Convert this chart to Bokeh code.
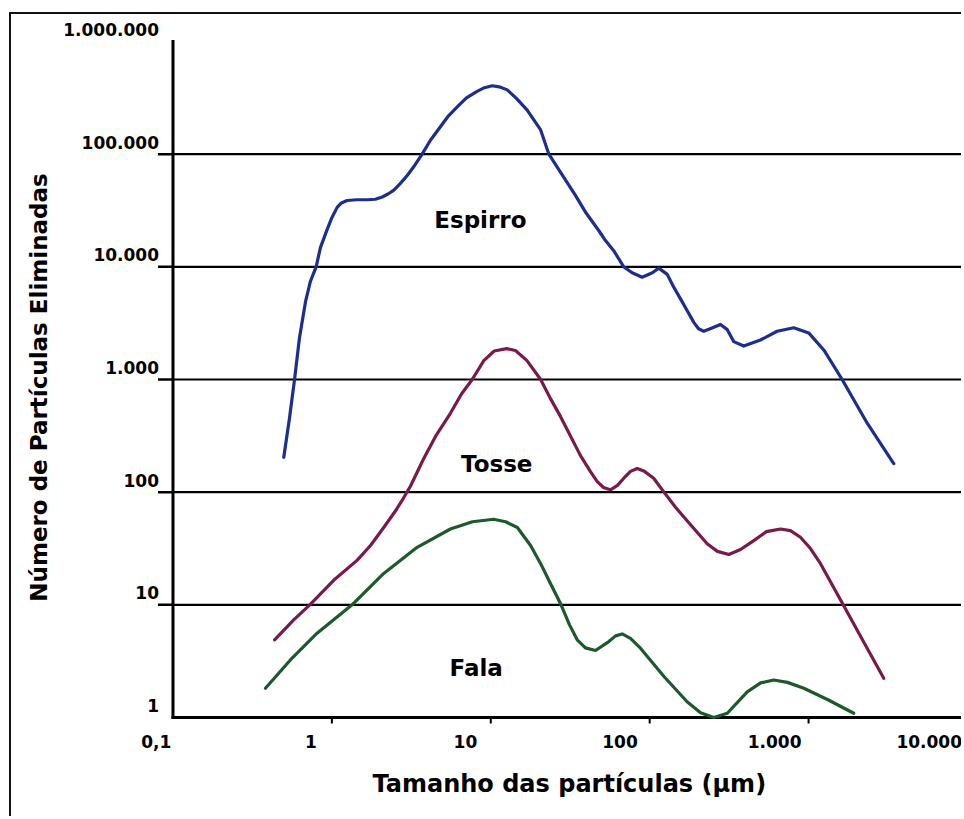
import numpy as np
from bokeh.plotting import figure
from bokeh.models import (Range1d, LogScale, LabelSet, Label, ColumnDataSource, Title)
from bokeh.core.properties import value
from bokeh.embed import file_html
from bokeh.resources import INLINE

# ---------------- data ----------------
espirro_x = [0.498, 0.541, 0.582, 0.625, 0.682, 0.733, 0.796, 0.847, 0.933, 0.994,
             1.079, 1.148, 1.247, 1.43, 1.667, 1.88, 2.075, 2.27, 2.455, 2.70,
             2.979, 3.31, 3.698, 4.17, 4.82, 5.42, 6.15, 7.03, 8.2, 9.12, 10.2,
             11.3, 12.7, 14.5, 16.9, 20.6, 23.2, 27.5, 34.1, 40.0, 47.9, 52.7,
             59.4, 68.7, 77.6, 89.7, 104, 114, 129, 141, 156, 173, 190, 203, 219,
             249, 279, 308, 338, 391, 498, 634, 807, 1002, 1250, 1626, 2339, 3436]
espirro_y = [204, 452, 1000, 2330, 4880, 7450, 10000, 14800, 21400, 26800,
             33700, 36900, 38800, 39400, 39400, 39800, 41700, 44500, 47900, 55000,
             64600, 79000, 100000, 133000, 175000, 219000, 263000, 316000, 361000,
             389000, 405000, 396000, 372000, 313000, 247000, 164000, 100000, 69000,
             43000, 29700, 20900, 17100, 13900, 10000, 8870, 8090, 8870, 9730, 8570,
             6700, 5220, 4030, 3200, 2820, 2680, 2880, 3080, 2770, 2170, 1980, 2240,
             2680, 2880, 2590, 1820, 1000, 409, 179]

tosse_x = [0.436, 0.575, 0.726, 1.03, 1.44, 1.75, 2.12, 2.51, 2.83, 3.12, 3.78,
           4.55, 5.57, 6.54, 7.64, 9.04, 10.5, 12.6, 14.3, 16.9, 20.6, 23.8, 27.5,
           36.7, 42.4, 46.8, 51.2, 56.6, 62.7, 68.7, 75.7, 83.4, 92.7, 106, 123,
           145, 172, 230, 267, 315, 373, 452, 543, 665, 769, 889, 1028, 1189, 1652,
           2183, 2972]
tosse_y = [4.89, 7.36, 10, 16.6, 24.8, 33.6, 48.6, 68, 89.1, 113, 198, 323, 501,
           743, 1000, 1470, 1790, 1880, 1810, 1470, 1000, 673, 468, 211, 152, 124,
           110, 105, 115, 133, 153, 162, 153, 133, 100, 73.8, 55.7, 34.8, 29.8, 28.0,
           31.0, 37.2, 44.6, 47.1, 45.5, 39.8, 31.6, 23.2, 10, 4.89, 2.23]

fala_x = [0.382, 0.548, 0.807, 1.34, 2.12, 3.44, 5.57, 7.67, 10.4, 12.4, 14.7,
          17.8, 20.6, 24.0, 27.7, 31.3, 35.0, 39.4, 45.6, 55.3, 61.0, 67.1, 75.7,
          87.5, 123, 172, 209, 253, 308, 411, 499, 604, 736, 933, 1334, 1923]
fala_y = [1.82, 3.24, 5.6, 10, 19.0, 32.4, 47.1, 54.6, 57.5, 54.6, 48.6, 33.6,
          23.2, 15.0, 10, 6.64, 4.89, 4.15, 3.93, 4.72, 5.30, 5.52, 5.04, 4.12,
          2.31, 1.38, 1.10, 1.0, 1.09, 1.69, 2.03, 2.15, 2.05, 1.82, 1.43, 1.09]

x_tick_values = [0.1, 1, 10, 100, 1000, 10000]
x_tick_labels = ["0,1", "1", "10", "100", "1.000", "10.000"]
y_tick_values = [1, 10, 100, 1000, 10000, 100000, 1000000]
y_tick_labels = ["1", "10", "100", "1.000", "10.000", "100.000", "1.000.000"]

series_names = ["Espirro", "Tosse", "Fala"]
series_label_x = [8.6, 10.9, 8.1]
series_label_y = [26300, 178, 2.75]

x_title = "Tamanho das partículas (µm)"
y_title = "Número de Partículas Eliminadas"

# ---------------- styles ----------------
FONT = "DejaVu Sans"
colors = ["#1c2f8e", "#7a1a4a", "#1d5a2a"]

# the plotting frame is larger than the drawn axes so that the tick texts,
# which sit outside the axes in the original, are not clipped
p = figure(width=952, height=804,
           x_axis_type="log", y_axis_type="log",
           x_axis_location=None, y_axis_location=None,
           x_range=Range1d(0.02017, 9440), y_range=Range1d(0.4153, 1.736e6),
           output_backend="svg", toolbar_location=None,
           min_border_left=51, min_border_right=0,
           min_border_top=0, min_border_bottom=58)
p.styles = {"border-left": "2px solid #111", "border-top": "2px solid #111",
            "margin-top": "12px", "margin-left": "9px"}
p.outline_line_color = None
p.background_fill_color = "white"
p.border_fill_color = "white"
p.grid.visible = False

# label scale for the x tick texts (they sit left of the tick marks in the original)
p.extra_x_ranges = {"lab": Range1d(0.02477, 16670)}
p.extra_x_scales = {"lab": LogScale()}

p.add_layout(Title(text=x_title, align="left", offset=310, standoff=14,
                   text_font=FONT, text_font_style="bold", text_font_size="24px",
                   text_color="black"), "below")
p.add_layout(Title(text=y_title, align="center", offset=8, standoff=21,
                   text_font=FONT, text_font_style="bold", text_font_size="23px",
                   text_color="black"), "left")

x0 = x_tick_values[0]
y0 = y_tick_values[0]
grid_vals = y_tick_values[1:-1]

# horizontal gridlines, each poking out left of the y axis as a tick
p.ray(x=[x0] * len(grid_vals), y=grid_vals, length=0, angle=0,
      line_color="black", line_width=2.2)
p.ray(x=[x0] * len(grid_vals), y=grid_vals, length=15, length_units="screen",
      angle=np.pi, line_color="black", line_width=2.5)

# axis lines
p.segment(x0=[x0], y0=[y0], x1=[x0], y1=[y_tick_values[-1]],
          line_color="black", line_width=3, line_cap="square")
p.ray(x=[x0], y=[y0], length=0, angle=0, line_color="black", line_width=3,
      line_cap="square")
# x tick marks
p.ray(x=x_tick_values[1:-1], y=[y0] * 4, length=6, length_units="screen",
      angle=-np.pi / 2, line_color="black", line_width=2)

# curves
for xs, ys, c in [(espirro_x, espirro_y, colors[0]),
                  (tosse_x, tosse_y, colors[1]),
                  (fala_x, fala_y, colors[2])]:
    p.line(xs, ys, line_color=c, line_width=3.2, line_join="round", line_cap="round")

# tick labels
tick_style = dict(text_font=value(FONT), text_font_style="bold",
                  text_font_size="17px", text_color="black", text_baseline="middle")
ysrc = ColumnDataSource(dict(x=[x0] * len(y_tick_values), y=y_tick_values,
                             text=y_tick_labels))
p.add_layout(LabelSet(x="x", y="y", text="text", source=ysrc,
                      x_offset=-14, y_offset=12, text_align="right", **tick_style))
xsrc = ColumnDataSource(dict(x=x_tick_values, y=[y0] * len(x_tick_values),
                             text=x_tick_labels))
p.add_layout(LabelSet(x="x", y="y", text="text", source=xsrc, x_range_name="lab",
                      y_offset=-24, text_align="center", **tick_style))

# series names
for name, lx, ly in zip(series_names, series_label_x, series_label_y):
    p.add_layout(Label(x=lx, y=ly, text=name, text_align="center",
                       text_baseline="middle", text_font=FONT,
                       text_font_style="bold", text_font_size="23px",
                       text_color="black"))

open("out.html", "w").write(file_html(p, INLINE))
